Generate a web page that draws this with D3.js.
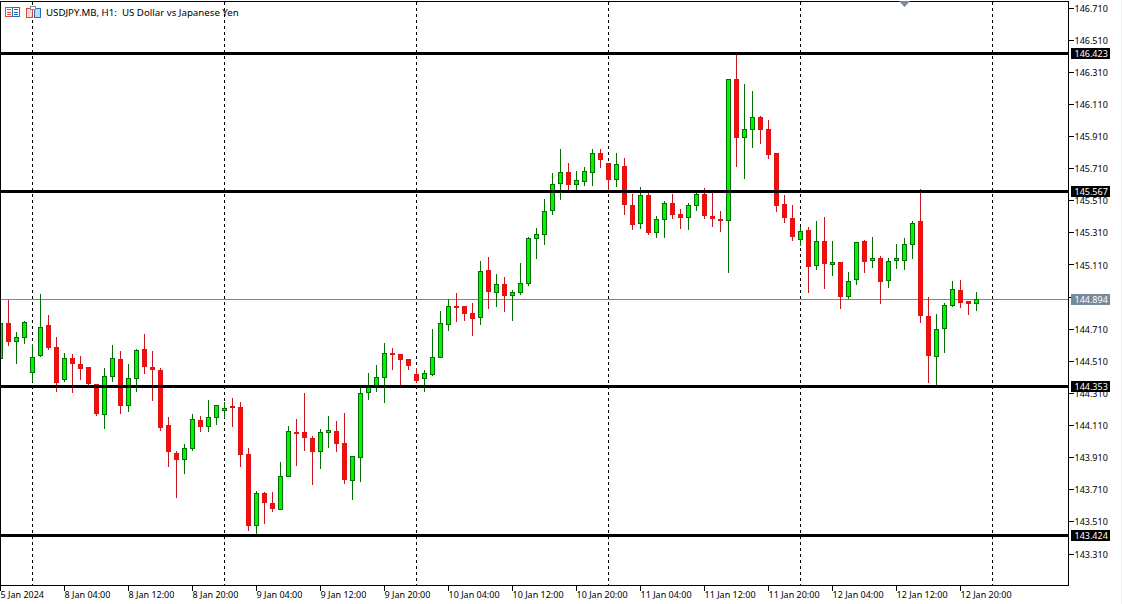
<!DOCTYPE html>
<html>
<head>
<meta charset="utf-8">
<title>USDJPY.MB, H1</title>
<script src="https://cdn.jsdelivr.net/npm/d3@7"></script>
<style>
  html, body { margin: 0; padding: 0; background: #fff; overflow: hidden; }
  svg { display: block; }
  text { font-family: "Noto Sans", sans-serif; font-size: 9px; fill: #000; white-space: pre; }
</style>
</head>
<body>
<svg id="vis"></svg>
<script>
// pixel size of the picture
const width = 1122;
const height = 604;

const opens = [
  144.525, 144.743, 144.629, 144.656, 144.438, 144.544, 144.731, 144.594, 144.394, 144.525,
  144.488, 144.469, 144.363, 144.176, 144.413, 144.519, 144.232, 144.401, 144.581, 144.469,
  144.450, 144.108, 143.933, 143.896, 143.965, 144.139, 144.102, 144.158, 144.201, 144.226,
  144.220, 143.927, 143.483, 143.684, 143.622, 143.585, 143.790, 144.064, 144.064, 144.027,
  143.944, 144.064, 144.070, 143.996, 143.765, 143.909, 144.311, 144.349, 144.407, 144.556,
  144.550, 144.519, 144.425, 144.399, 144.423, 144.531, 144.737, 144.851, 144.849, 144.805,
  144.781, 145.073, 144.934, 144.986, 144.916, 144.934, 144.990, 145.273, 145.298, 145.447,
  145.615, 145.684, 145.609, 145.628, 145.684, 145.802, 145.740, 145.640, 145.721, 145.478,
  145.366, 145.541, 145.310, 145.391, 145.491, 145.422, 145.403, 145.478, 145.543, 145.410,
  145.391, 145.385, 146.263, 145.902, 145.952, 146.027, 145.952, 145.802, 145.485, 145.398,
  145.267, 145.323, 145.105, 145.254, 145.111, 145.123, 144.911, 145.017, 145.254, 145.136,
  145.148, 145.011, 145.136, 145.136, 145.235, 145.379, 144.787, 144.538, 144.712, 144.856,
  144.949, 144.878, 144.868
];
const highs = [
  144.760, 144.893, 144.695, 144.764, 144.619, 144.926, 144.801, 144.664, 144.563, 144.556,
  144.540, 144.475, 144.369, 144.469, 144.612, 144.577, 144.494, 144.587, 144.681, 144.577,
  144.469, 144.166, 143.954, 143.992, 144.183, 144.172, 144.272, 144.239, 144.255, 144.284,
  144.259, 143.971, 143.703, 143.693, 143.693, 143.884, 144.104, 144.151, 144.315, 144.046,
  144.089, 144.172, 144.141, 144.189, 143.921, 144.365, 144.438, 144.484, 144.627, 144.594,
  144.550, 144.525, 144.467, 144.457, 144.712, 144.824, 144.899, 144.936, 144.855, 144.870,
  145.132, 145.157, 145.051, 145.038, 144.957, 145.125, 145.287, 145.337, 145.522, 145.680,
  145.829, 145.742, 145.698, 145.717, 145.829, 145.829, 145.740, 145.810, 145.777, 145.549,
  145.593, 145.563, 145.412, 145.510, 145.549, 145.460, 145.493, 145.561, 145.592, 145.557,
  145.449, 146.263, 146.417, 146.234, 146.191, 146.035, 146.014, 145.802, 145.547, 145.481,
  145.345, 145.347, 145.385, 145.410, 145.260, 145.123, 145.067, 145.254, 145.267, 145.285,
  145.167, 145.154, 145.242, 145.279, 145.385, 145.584, 144.912, 144.806, 144.874, 145.011,
  145.017, 144.887, 144.943
];
const lows = [
  144.500, 144.604, 144.492, 144.616, 144.380, 144.536, 144.579, 144.318, 144.380, 144.311,
  144.392, 144.357, 144.168, 144.087, 144.380, 144.181, 144.193, 144.318, 144.430, 144.261,
  144.075, 143.850, 143.657, 143.807, 143.950, 144.068, 144.068, 144.112, 144.156, 144.100,
  143.850, 143.452, 143.425, 143.495, 143.570, 143.585, 143.790, 143.857, 143.954, 143.738,
  143.842, 143.973, 143.948, 143.745, 143.645, 143.757, 144.268, 144.318, 144.249, 144.455,
  144.357, 144.455, 144.374, 144.318, 144.417, 144.529, 144.697, 144.753, 144.760, 144.666,
  144.733, 144.835, 144.845, 144.820, 144.760, 144.922, 144.978, 145.146, 145.233, 145.420,
  145.514, 145.572, 145.572, 145.601, 145.601, 145.713, 145.572, 145.594, 145.420, 145.327,
  145.335, 145.296, 145.277, 145.277, 145.395, 145.333, 145.327, 145.445, 145.395, 145.345,
  145.314, 145.059, 145.719, 145.645, 145.838, 145.863, 145.769, 145.439, 145.371, 145.259,
  145.227, 144.934, 145.077, 144.959, 145.040, 144.835, 144.897, 144.984, 145.059, 145.090,
  144.866, 144.965, 145.084, 145.077, 145.146, 144.748, 144.374, 144.360, 144.561, 144.847,
  144.841, 144.797, 144.823
];
const closes = [
  144.743, 144.629, 144.656, 144.749, 144.531, 144.718, 144.592, 144.374, 144.525, 144.492,
  144.461, 144.367, 144.181, 144.413, 144.525, 144.230, 144.401, 144.575, 144.473, 144.455,
  144.093, 143.944, 143.894, 143.965, 144.145, 144.100, 144.158, 144.232, 144.214, 144.218,
  143.925, 143.483, 143.684, 143.626, 143.589, 143.790, 144.070, 144.062, 144.033, 143.944,
  144.064, 144.077, 143.994, 143.769, 143.915, 144.307, 144.345, 144.407, 144.556, 144.548,
  144.517, 144.479, 144.386, 144.432, 144.531, 144.743, 144.849, 144.849, 144.803, 144.772,
  145.067, 144.941, 144.986, 144.916, 144.934, 144.992, 145.273, 145.298, 145.441, 145.609,
  145.684, 145.609, 145.634, 145.690, 145.802, 145.765, 145.638, 145.734, 145.485, 145.358,
  145.541, 145.310, 145.391, 145.491, 145.420, 145.403, 145.478, 145.547, 145.414, 145.397,
  145.385, 146.263, 145.900, 145.952, 146.027, 145.950, 145.794, 145.477, 145.402, 145.283,
  145.317, 145.096, 145.254, 145.115, 145.123, 144.909, 145.005, 145.248, 145.127, 145.148,
  145.003, 145.129, 145.148, 145.235, 145.366, 144.791, 144.542, 144.706, 144.856, 144.955,
  144.872, 144.866, 144.893
];

const levels = [146.423, 145.567, 144.353, 143.424];
const lastPrice = 144.894;

const priceTicks = [146.71, 146.51, 146.31, 146.11, 145.91, 145.71, 145.51, 145.31, 145.11,
  144.91, 144.71, 144.51, 144.31, 144.11, 143.91, 143.71, 143.51, 143.31];

// bar number of each time label, one every 8 hours
const timeBars = [0, 8, 16, 24, 32, 40, 48, 56, 64, 72, 80, 88, 96, 104, 112, 120];
const timeLabels = ["5 Jan 2024", "8 Jan 04:00", "8 Jan 12:00", "8 Jan 20:00", "9 Jan 04:00",
  "9 Jan 12:00", "9 Jan 20:00", "10 Jan 04:00", "10 Jan 12:00", "10 Jan 20:00", "11 Jan 04:00",
  "11 Jan 12:00", "11 Jan 20:00", "12 Jan 04:00", "12 Jan 12:00", "12 Jan 20:00"];

// day separators
const separatorBars = [4, 28, 52, 76, 100, 124];

const plot = {left: 0.5, right: 1068.5, top: 1.5, bottom: 585.5};

// 8 px per bar
const xScale = d3.scaleLinear().domain([0, 122]).range([0.5, 976.5]);
// 0.2 of price is about 32.1 px
const yScale = d3.scaleLinear().domain([146.71, 143.31]).range([7.5, 553.5]);

const colors = {up: "#00f500", upEdge: "#007000", down: "#ff0a0a", downEdge: "#dc1414",
  downWick: "#c8141e", priceLine: "#778899"};

const svg = d3.select("#vis").attr("width", width).attr("height", height);

const py = p => Math.round(yScale(p) - 0.5) + 0.5;

// day separators go under the candles
svg.append("g").selectAll("line").data(separatorBars).join("line")
  .attr("x1", d => xScale(d)).attr("x2", d => xScale(d))
  .attr("y1", plot.top).attr("y2", plot.bottom)
  .attr("stroke", "#000").attr("stroke-dasharray", "3,3")
  .attr("shape-rendering", "crispEdges");

// last price line
svg.append("line")
  .attr("x1", plot.left).attr("x2", plot.right)
  .attr("y1", py(lastPrice)).attr("y2", py(lastPrice))
  .attr("stroke", colors.priceLine).attr("shape-rendering", "crispEdges");

// candles
const candles = svg.append("g").attr("shape-rendering", "crispEdges")
  .selectAll("g").data(d3.range(opens.length)).join("g");

candles.append("line")
  .attr("x1", i => xScale(i)).attr("x2", i => xScale(i))
  .attr("y1", i => py(highs[i])).attr("y2", i => py(lows[i]))
  .attr("stroke", i => closes[i] >= opens[i] ? colors.upEdge : colors.downWick);

candles.append("rect")
  .attr("x", i => xScale(i) - 2)
  .attr("width", 4)
  .attr("y", i => py(Math.max(opens[i], closes[i])))
  .attr("height", i => Math.max(1, py(Math.min(opens[i], closes[i])) - py(Math.max(opens[i], closes[i]))))
  .attr("fill", i => closes[i] >= opens[i] ? colors.up : colors.down)
  .attr("stroke", i => closes[i] >= opens[i] ? colors.upEdge : colors.downEdge);

// thick horizontal levels sit on top of the candles
svg.append("g").selectAll("line").data(levels).join("line")
  .attr("x1", plot.left).attr("x2", plot.right)
  .attr("y1", d => py(d)).attr("y2", d => py(d))
  .attr("stroke", "#000").attr("stroke-width", 3)
  .attr("shape-rendering", "crispEdges");

// price axis, right side
const yAxis = d3.axisRight(yScale).tickValues(priceTicks).tickSize(5).tickPadding(1)
  .tickFormat(d3.format(".3f"));
const yG = svg.append("g").attr("transform", `translate(${plot.right},0)`).call(yAxis);
yG.select(".domain").remove();
yG.selectAll("line").attr("shape-rendering", "crispEdges");
yG.selectAll("text").attr("dy", "0.4em");

// time axis, labels start at the tick
const xAxis = d3.axisBottom(xScale).offset(0).tickValues(timeBars).tickSize(5).tickPadding(1)
  .tickFormat((d, i) => timeLabels[i]);
const xG = svg.append("g").attr("transform", `translate(0,${plot.bottom})`).call(xAxis);
xG.select(".domain").remove();
xG.selectAll("line").attr("shape-rendering", "crispEdges");
xG.selectAll("text").attr("text-anchor", "start").attr("x", 0);
xG.attr("font-family", null).attr("font-size", null);
yG.attr("font-family", null).attr("font-size", null);

// chart frame
svg.append("rect")
  .attr("x", plot.left).attr("y", plot.top)
  .attr("width", plot.right - plot.left).attr("height", plot.bottom - plot.top)
  .attr("fill", "none").attr("stroke", "#000").attr("shape-rendering", "crispEdges");

// price tags on the axis
const tags = levels.map(v => ({v, fill: "#000"})).concat([{v: lastPrice, fill: colors.priceLine}]);
const tag = svg.append("g").selectAll("g").data(tags).join("g")
  .attr("transform", d => `translate(1071,${py(d.v)})`);
tag.append("rect").attr("y", -5.5).attr("width", 39).attr("height", 11)
  .attr("fill", d => d.fill).attr("shape-rendering", "crispEdges");
tag.append("text").attr("x", 3.5).attr("dy", "0.38em")
  .style("fill", "#fff").text(d => d.v.toFixed(3));

// title and the two small icons in the corner
svg.append("text").attr("x", 46).attr("y", 16)
  .style("font-size", "9.7px")
  .text("USDJPY.MB, H1:  US Dollar vs Japanese Yen");

const icons = svg.append("g").attr("shape-rendering", "crispEdges").attr("fill", "none");
icons.append("rect").attr("x", 5.5).attr("y", 7.5).attr("width", 7).attr("height", 9).attr("stroke", "#e0453a");
icons.append("rect").attr("x", 12.5).attr("y", 7.5).attr("width", 7).attr("height", 9).attr("stroke", "#2a6fb8");
[9.5, 12.5, 14.5].forEach(y => {
  icons.append("line").attr("x1", 7).attr("x2", 11).attr("y1", y).attr("y2", y).attr("stroke", "#e0453a");
  icons.append("line").attr("x1", 14).attr("x2", 18).attr("y1", y).attr("y2", y).attr("stroke", "#2a6fb8");
});
icons.append("rect").attr("x", 26.5).attr("y", 8.5).attr("width", 6).attr("height", 9).attr("stroke", "#e0453a").attr("fill", "#fbd9d2");
icons.append("rect").attr("x", 34.5).attr("y", 8.5).attr("width", 6).attr("height", 9).attr("stroke", "#2a6fb8").attr("fill", "#bcdcf5");
icons.append("rect").attr("x", 30.5).attr("y", 6.5).attr("width", 5).attr("height", 3).attr("stroke", "#8a8a8a").attr("fill", "#fff");

// chart shift marker at the top edge
svg.append("path").attr("d", "M899,1 L910,1 L904.5,7 Z").attr("fill", "#7b8a99");

// thin grey edge at the far right
svg.append("rect").attr("x", 1121).attr("y", 0).attr("width", 1).attr("height", height).attr("fill", "#f0f0f0");
</script>
</body>
</html>
